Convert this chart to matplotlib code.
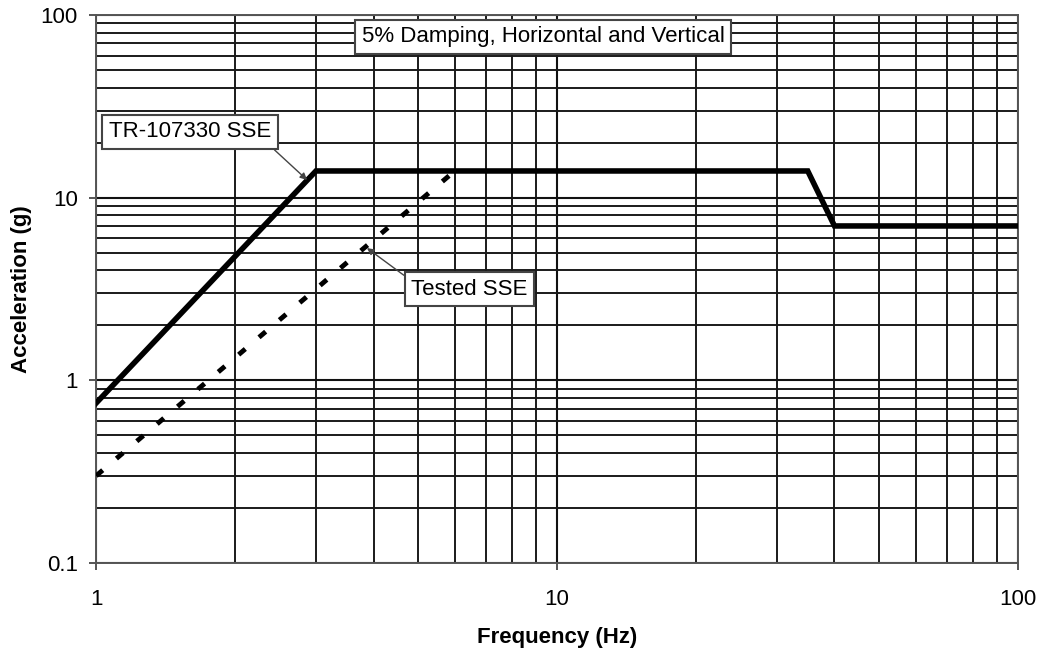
import matplotlib
matplotlib.use("Agg")
import matplotlib.pyplot as plt
from matplotlib.ticker import LogLocator, NullFormatter, FixedLocator, FixedFormatter

plt.rcParams['font.family'] = ['Liberation Sans', 'DejaVu Sans']

#### Spectrum data ####
ssr_freq = [1, 3, 35, 40, 100]
ssr_acc = [0.75, 14, 14, 7, 7]

tested_freq = [1, 6]
tested_acc = [0.3, 14]

x_ticks = [1, 10, 100]
x_labels = ['1', '10', '100']
y_ticks = [0.1, 1, 10, 100]
y_labels = ['0.1', '1', '10', '100']

#### Figure ####
fig = plt.figure(figsize=(10.44, 6.52), dpi=100)
ax = fig.add_axes([0.092, 0.1365, 0.883, 0.8405])

ax.set_xscale('log')
ax.set_yscale('log')
ax.set_xlim(1, 100)
ax.set_ylim(0.1, 100)

ax.xaxis.set_major_locator(FixedLocator(x_ticks))
ax.xaxis.set_major_formatter(FixedFormatter(x_labels))
ax.yaxis.set_major_locator(FixedLocator(y_ticks))
ax.yaxis.set_major_formatter(FixedFormatter(y_labels))
ax.xaxis.set_minor_locator(LogLocator(base=10, subs=range(2, 10), numticks=20))
ax.yaxis.set_minor_locator(LogLocator(base=10, subs=range(2, 10), numticks=20))
ax.xaxis.set_minor_formatter(NullFormatter())
ax.yaxis.set_minor_formatter(NullFormatter())

ax.grid(which='major', color='#111111', linewidth=1.5)
ax.grid(which='minor', color='#1a1a1a', linewidth=1.4)
ax.tick_params(which='minor', length=0)
ax.tick_params(which='major', length=5, width=1.4, color='#555555', labelsize=16)
ax.tick_params(axis='x', which='major', pad=14)
ax.tick_params(axis='y', which='major', pad=8)
for s in ax.spines.values():
    s.set_color('#555555')
    s.set_linewidth(1.4)

ax.plot(ssr_freq, ssr_acc, color='black', linewidth=4, solid_joinstyle='miter', zorder=5)
ax.plot(tested_freq, tested_acc, color='black', linewidth=3.5, linestyle=(0, (1.8, 3.7)), zorder=5)

ax.set_xlabel('Frequency (Hz)', fontsize=16, fontweight='bold', labelpad=12)
ax.set_ylabel('Acceleration (g)', fontsize=16, fontweight='bold', labelpad=6)

box = dict(boxstyle='square,pad=0.3', facecolor='white', edgecolor='#444444', linewidth=1.5)

ax.text(3.77, 76, '5% Damping, Horizontal and Vertical', fontsize=16, ha='left', va='center',
        bbox=box, zorder=6)

ax.annotate('TR-107330 SSE', xy=(2.87, 12.5), xytext=(1.067, 22.9), fontsize=16,
            ha='left', va='center', bbox=box, zorder=6,
            arrowprops=dict(arrowstyle='-|>', color='#444444', linewidth=1,
                            shrinkA=0, shrinkB=0, mutation_scale=10, relpos=(0.97, 0)))
ax.annotate('Tested SSE', xy=(3.87, 5.3), xytext=(4.83, 3.16), fontsize=16,
            ha='left', va='center', bbox=box, zorder=6,
            arrowprops=dict(arrowstyle='-|>', color='#444444', linewidth=1,
                            shrinkA=0, shrinkB=0, mutation_scale=10, relpos=(-0.05, 1.1)))

fig.savefig('out.png', dpi=100)
